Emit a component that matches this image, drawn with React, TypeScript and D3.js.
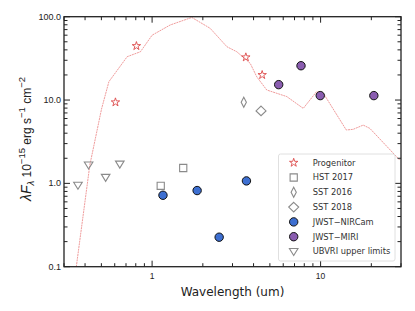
import React from 'react';
import * as d3 from 'd3';

// photometry (wavelength in um, flux in 1e-15 erg/s/cm2)
const progenitorWave = [0.606, 0.807, 3.6, 4.5];
const progenitorFlux = [9.4, 44.5, 32.6, 20.0];

const hstWave = [1.125, 1.53];
const hstFlux = [0.935, 1.53];

const sst2016Wave = [3.5];
const sst2016Flux = [9.4];

const sst2018Wave = [4.43];
const sst2018Flux = [7.4];

const nircamWave = [1.16, 1.85, 2.5, 3.63];
const nircamFlux = [0.72, 0.82, 0.226, 1.07];

const miriWave = [5.64, 7.65, 9.95, 20.7];
const miriFlux = [15.3, 25.8, 11.3, 11.3];

const ubvriWave = [0.363, 0.42, 0.53, 0.643];
const ubvriFlux = [0.95, 1.66, 1.18, 1.7];

// model SED of the progenitor
const sedWave = [0.355, 0.427, 0.501, 0.554, 0.711, 0.853, 1.0, 1.28, 1.72, 2.21, 2.78, 3.18, 3.82, 4.18, 4.79, 6.3, 7.89, 9.46, 10.4, 14.2, 15.6, 17.9, 19.6, 29.5];
const sedFlux = [0.1, 1.66, 7.8, 16.6, 33.1, 38, 60, 79.5, 98, 72.6, 43.6, 38, 27.6, 19, 13.2, 11, 7.94, 12.6, 12, 4.37, 4.45, 5.0, 4.57, 1.9];

const legendLabels = ['Progenitor', 'HST 2017', 'SST 2016', 'SST 2018', 'JWST\u2212NIRCam', 'JWST\u2212MIRI', 'UBVRI upper limits'];

const xMajor = [1, 10];
const yMajor = [0.1, 1, 10, 100];
const yMajorLabels = ['0.1', '1.0', '10.0', '100.0'];

const W = 415;
const H = 311;
const margin = { top: 16.7, right: 14, bottom: 44.3, left: 64 };

const RED = '#dd4a4a';
const GRAY = '#8a8a8a';

function minorTicks(lo: number, hi: number) {
  const out: number[] = [];
  for (let e = -2; e <= 2; e++) {
    for (let m = 2; m < 10; m++) {
      const v = m * Math.pow(10, e);
      if (v >= lo * 0.999 && v <= hi * 1.001) out.push(v);
    }
  }
  return out;
}

const shapes: Record<string, string> = {
  star: d3.symbol(d3.symbolStar, 22)() as string,
  square: 'M-3.6,-3.6H3.6V3.6H-3.6Z',
  thin: 'M0,-5L2.6,0L0,5L-2.6,0Z',
  diamond: 'M0,-4.8L5,0L0,4.8L-5,0Z',
  tri: 'M-4.3,-3L4.3,-3L0,4Z',
};

function Marker({ kind, x, y }: { kind: string; x: number; y: number }) {
  if (kind === 'nircam' || kind === 'miri') {
    return <circle cx={x} cy={y} r={4.2} fill={kind === 'nircam' ? '#3d6fd1' : '#8a5db0'} stroke="#111" strokeWidth={1} />;
  }
  const stroke = kind === 'star' ? RED : GRAY;
  return <path d={shapes[kind]} transform={`translate(${x},${y})`} fill="none" stroke={stroke} strokeWidth={kind === 'star' ? 0.9 : 1.1} />;
}

export default function App() {
  const iw = W - margin.left - margin.right;
  const ih = H - margin.top - margin.bottom;

  const x = d3.scaleLog().domain([0.3, 30]).range([0, iw]);
  const y = d3.scaleLog().domain([0.1, 100]).range([ih, 0]);

  const line = d3.line<number>()
    .x((_, i) => x(sedWave[i]))
    .y(d => y(d));

  const groups = [
    { kind: 'star', wave: progenitorWave, flux: progenitorFlux },
    { kind: 'square', wave: hstWave, flux: hstFlux },
    { kind: 'thin', wave: sst2016Wave, flux: sst2016Flux },
    { kind: 'diamond', wave: sst2018Wave, flux: sst2018Flux },
    { kind: 'nircam', wave: nircamWave, flux: nircamFlux },
    { kind: 'miri', wave: miriWave, flux: miriFlux },
    { kind: 'tri', wave: ubvriWave, flux: ubvriFlux },
  ];

  const xMinor = minorTicks(0.3, 30);
  const yMinor = minorTicks(0.1, 100);
  const axisColor = '#222';
  const font = 'DejaVu Sans, sans-serif';
  const tickFont = 'Liberation Sans, Arial, sans-serif';

  const legend = { x: 278.5 - margin.left, y: 154 - margin.top, w: 116.5, h: 107, row: 14.8 };

  return (
    <svg width={W} height={H} style={{ position: 'absolute', left: 0, top: 0, background: '#fff' }} fontFamily={font}>
      <g transform={`translate(${margin.left},${margin.top})`}>
        <defs>
          <clipPath id="plotClip"><rect x={0} y={0} width={iw} height={ih} /></clipPath>
        </defs>
        <path d={line(sedFlux) ?? ''} fill="none" stroke="#e86b6b" strokeOpacity={0.85} strokeWidth={0.8} strokeDasharray="2,0.7" clipPath="url(#plotClip)" />

        {groups.map(g => g.wave.map((w, i) => (
          <Marker key={g.kind + i} kind={g.kind} x={x(w)} y={y(g.flux[i])} />
        )))}

        {/* ticks, drawn inward on all four sides */}
        {xMajor.map(v => (
          <g key={'xM' + v}>
            <line x1={x(v)} x2={x(v)} y1={ih} y2={ih - 6} stroke={axisColor} />
            <line x1={x(v)} x2={x(v)} y1={0} y2={6} stroke={axisColor} />
            <text x={x(v)} y={ih + 12} fontSize={8.5} fontFamily={tickFont} textAnchor="middle" fill="#222">{v}</text>
          </g>
        ))}
        {xMinor.map(v => (
          <g key={'xm' + v}>
            <line x1={x(v)} x2={x(v)} y1={ih} y2={ih - 3.5} stroke={axisColor} />
            <line x1={x(v)} x2={x(v)} y1={0} y2={3.5} stroke={axisColor} />
          </g>
        ))}
        {yMajor.map((v, i) => (
          <g key={'yM' + v}>
            <line x1={0} x2={6} y1={y(v)} y2={y(v)} stroke={axisColor} />
            <line x1={iw} x2={iw - 6} y1={y(v)} y2={y(v)} stroke={axisColor} />
            <text x={-3} y={y(v)} dy="0.33em" fontSize={9} fontFamily={tickFont} textAnchor="end" fill="#222">{yMajorLabels[i]}</text>
          </g>
        ))}
        {yMinor.map(v => (
          <g key={'ym' + v}>
            <line x1={0} x2={3.5} y1={y(v)} y2={y(v)} stroke={axisColor} />
            <line x1={iw} x2={iw - 3.5} y1={y(v)} y2={y(v)} stroke={axisColor} />
          </g>
        ))}
        <rect x={0} y={0} width={iw} height={ih} fill="none" stroke={axisColor} strokeWidth={1.3} />

        {/* legend */}
        <rect x={legend.x} y={legend.y} width={legend.w} height={legend.h} rx={2} fill="#fff" fillOpacity={0.85} stroke="#d8d8d8" strokeWidth={0.8} />
        {groups.map((g, i) => (
          <g key={'lg' + g.kind} transform={`translate(${legend.x}, ${legend.y + 8.7 + i * legend.row})`}>
            <Marker kind={g.kind} x={15.2} y={0} />
            <text x={34.2} y={0} dy="0.35em" fontSize={8.3} fill="#333">{legendLabels[i]}</text>
          </g>
        ))}

        <text x={iw / 2} y={ih + 29} fontSize={12} textAnchor="middle" fill="#222">Wavelength (um)</text>
      </g>

      <text transform="translate(31,139) rotate(-90)" textAnchor="middle" fill="#222" fontSize={12} fontFamily={tickFont}>
        <tspan fontStyle="italic" fontSize={14}>λF</tspan>
        <tspan fontStyle="italic" fontSize={9.5} dy={3}>λ</tspan>
        <tspan dy={-3}> 10</tspan>
        <tspan fontSize={9.5} dy={-6}>−15</tspan>
        <tspan dy={6}> erg s</tspan>
        <tspan fontSize={9.5} dy={-6}>−1</tspan>
        <tspan dy={6}> cm</tspan>
        <tspan fontSize={9.5} dy={-6}>−2</tspan>
      </text>
    </svg>
  );
}
